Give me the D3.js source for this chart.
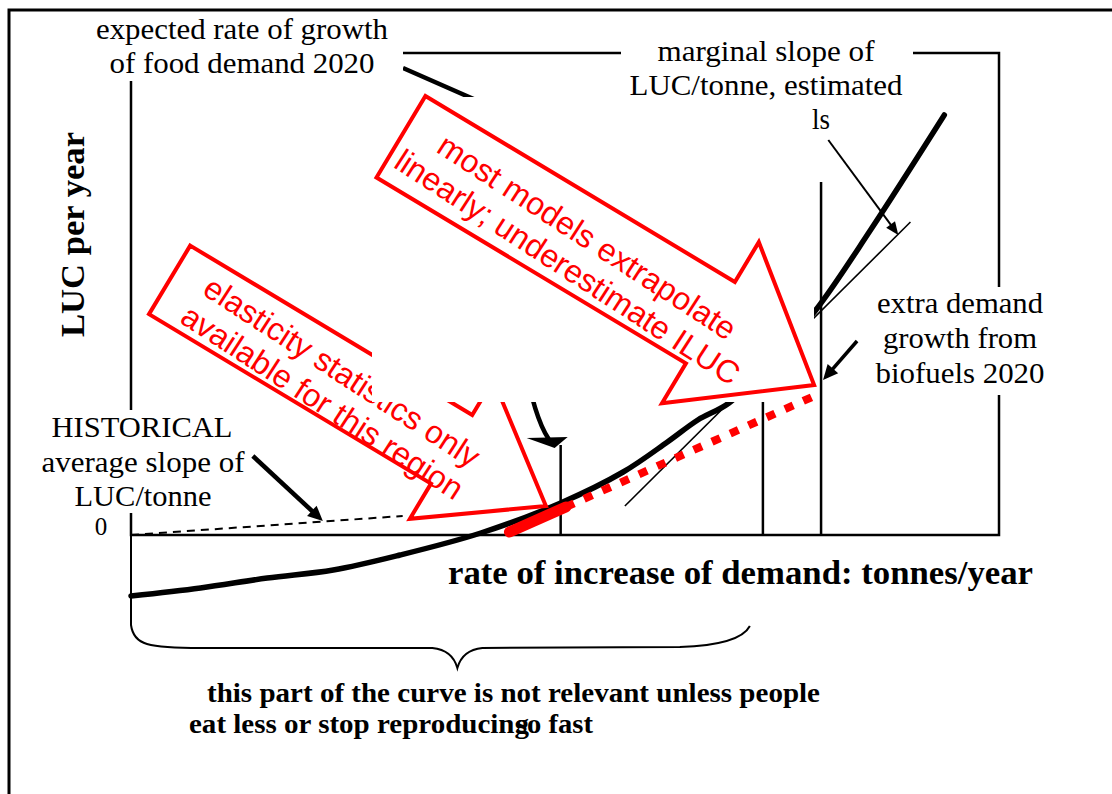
<!DOCTYPE html>
<html>
<head>
<meta charset="utf-8">
<script src="https://cdn.jsdelivr.net/npm/d3@7"></script>
<style>
  body { margin: 0; background: #fff; }
  svg { display: block; }
</style>
</head>
<body>
<div id="chart"></div>
<script>
// Variables
var width = 1112;
var height = 794;
var serif = '"Liberation Serif", "Times New Roman", serif';
var sans = '"Liberation Sans", Arial, sans-serif';

// demand growth (x, tonnes/year) against LUC per year (y)
var curveX = [0, 0.80, 1.57, 2.33, 3.10, 4.03, 4.95, 5.67, 6.18, 6.53, 6.89, 7.37, 7.89, 8.52, 9.37];
var curveY = [-0.61, -0.53, -0.43, -0.35, -0.20, 0.02, 0.32, 0.63, 0.93, 1.15, 1.32, 1.73, 2.25, 3.05, 4.20];

// historical average slope (dashed)
var histX = [0, 3.13];
var histY = [0, 0.19];

// linear extrapolation: solid over the known region, dotted beyond it
var linX = [4.36, 5.01, 7.95];
var linY = [0.03, 0.28, 1.42];

// marginal slope tangent
var tanX = [5.69, 8.98];
var tanY = [0.29, 3.13];

// vertical markers (food demand 2020, intermediate, with biofuels 2020)
var markX = [4.95, 7.28, 7.95];
var markTop = [0.90, 1.33, 3.53];

var frameTop = 4.82;

var x = d3.scaleLinear().domain([0, 10]).range([131, 999]);
var y = d3.scaleLinear().domain([0, frameTop]).range([535, 53]);

var svg = d3.select('#chart').append('svg')
    .attr('width', width)
    .attr('height', height);

function pts(xs, ys) {
  return xs.map(function(d, i) { return [d, ys[i]]; });
}

function arrowHead(x1, y1, x2, y2, len, half) {
  var a = Math.atan2(y2 - y1, x2 - x1);
  var bx = x2 - len * Math.cos(a), by = y2 - len * Math.sin(a);
  return [[x2, y2],
          [bx - half * Math.sin(a), by + half * Math.cos(a)],
          [bx + half * Math.sin(a), by - half * Math.cos(a)]];
}

// straight pointer with a filled head, tail given as offset from the tip
function pointer(tipX, tipY, dx, dy, sw, len, half) {
  var x1 = tipX + dx, y1 = tipY + dy;
  var a = Math.atan2(-dy, -dx);
  svg.append('line')
      .attr('x1', x1).attr('y1', y1)
      .attr('x2', tipX - len * 0.7 * Math.cos(a))
      .attr('y2', tipY - len * 0.7 * Math.sin(a))
      .attr('stroke', '#000').attr('stroke-width', sw);
  svg.append('polygon')
      .attr('points', arrowHead(x1, y1, tipX, tipY, len, half).join(' '))
      .attr('fill', '#000');
}

// red block arrow with two lines of text
function callout(tipX, tipY, p) {
  var back = -(p.headLen + p.shaftLen);
  var shape = [[back, -p.shaftHalf], [-p.headLen, -p.shaftHalf], [-p.headLen, -p.headHalf], [0, 0],
               [-p.headLen, p.headHalf], [-p.headLen, p.shaftHalf], [back, p.shaftHalf]];
  var g = svg.append('g')
      .attr('transform', 'translate(' + tipX + ',' + tipY + ')rotate(' + p.angle + ')');
  g.append('polygon')
      .attr('points', shape.join(' '))
      .attr('fill', '#fff')
      .attr('stroke', '#f00')
      .attr('stroke-width', 4);
  var t = g.append('g')
      .attr('transform', 'translate(' + (-(p.headLen + p.shaftLen / 2) + 30) + ',8)rotate(2)');
  p.lines.forEach(function(s, i) {
    t.append('text')
        .attr('y', i ? 29 : -7)
        .attr('text-anchor', 'middle')
        .style('font-family', sans)
        .style('font-size', '32px')
        .style('fill', '#f00')
        .text(s);
  });
}

// outer frame of the figure
svg.append('path')
    .attr('d', 'M9,794V10H1112')
    .attr('fill', 'none').attr('stroke', '#000').attr('stroke-width', 3);

// plot frame and y axis running down to the brace
svg.append('rect')
    .attr('x', x(0)).attr('y', y(frameTop))
    .attr('width', x(10) - x(0)).attr('height', y(0) - y(frameTop))
    .attr('fill', 'none').attr('stroke', '#000').attr('stroke-width', 2.5);

var bx0 = x(0), bx1 = x(7.13), bm = x(3.76);
svg.append('path')
    .attr('d', 'M' + bx0 + ',' + y(0) + 'V625Q' + (bx0 + 2) + ',640 ' + (bx0 + 16) + ',644Q' + (bx0 + 30) + ',648 ' + (bx0 + 70) + ',648' +
               'L' + (bm - 25) + ',648Q' + (bm - 5) + ',650 ' + bm + ',668Q' + (bm + 5) + ',650 ' + (bm + 25) + ',648' +
               'L' + (bx1 - 70) + ',647Q' + (bx1 - 10) + ',645 ' + bx1 + ',626')
    .attr('fill', 'none').attr('stroke', '#000').attr('stroke-width', 2);

// vertical markers
svg.selectAll('.mark')
    .data(markX)
    .enter().append('line')
    .attr('class', 'mark')
    .attr('x1', function(d) { return x(d); })
    .attr('x2', function(d) { return x(d); })
    .attr('y1', y(0))
    .attr('y2', function(d, i) { return y(markTop[i]); })
    .attr('stroke', '#000').attr('stroke-width', 2.5);

var line = d3.line()
    .x(function(d) { return x(d[0]); })
    .y(function(d) { return y(d[1]); });

// historical average slope
svg.append('path')
    .attr('d', line(pts(histX, histY)))
    .attr('fill', 'none').attr('stroke', '#000').attr('stroke-width', 2)
    .attr('stroke-dasharray', '8,6');

// the LUC curve
svg.append('path')
    .attr('d', line.curve(d3.curveCatmullRom.alpha(0.5))(pts(curveX, curveY)))
    .attr('fill', 'none').attr('stroke', '#000').attr('stroke-width', 5.5)
    .attr('stroke-linecap', 'round').attr('stroke-linejoin', 'round');
line.curve(d3.curveLinear);

// marginal slope tangent
svg.append('path')
    .attr('d', line(pts(tanX, tanY)))
    .attr('fill', 'none').attr('stroke', '#000').attr('stroke-width', 1.6);

// pointer from the food demand label, bent down to the 2020 marker
var tipA = [x(markX[0]) - 6, y(markTop[0]) + 3];
svg.append('path')
    .attr('d', 'M403,68L478,101C515,125 505,372 ' + (tipA[0] - 6) + ',' + (tipA[1] - 9))
    .attr('fill', 'none').attr('stroke', '#000').attr('stroke-width', 4.5);
svg.append('polygon')
    .attr('points', [tipA, [tipA[0] - 28, tipA[1] - 10], [tipA[0] + 13, tipA[1] - 11]].join(' '))
    .attr('fill', '#000');

pointer(x(2.21), y(0.14), -70, -65, 4.5, 15, 7);
pointer(x(8.84), y(3.0), -70, -95, 2, 13, 5.5);
pointer(x(markX[2]) + 2, y(1.55), 34, -39, 3.5, 15, 7);

callout(x(4.78), y(0.29), {
  angle: 31, headLen: 110, headHalf: 81, shaftHalf: 40, shaftLen: 329,
  lines: ['elasticity statistics only', 'available for this region']
});

// blank patch pasted over the middle of the sketch
svg.append('rect')
    .attr('x', 372).attr('y', 97).attr('width', 442).attr('height', 305)
    .attr('fill', '#fff');

// linear extrapolation
var lin = pts(linX, linY);
svg.append('path')
    .attr('d', line(lin.slice(1)))
    .attr('fill', 'none').attr('stroke', '#f00').attr('stroke-width', 8)
    .attr('stroke-dasharray', '9,11');
svg.append('path')
    .attr('d', line(lin.slice(0, 2)))
    .attr('fill', 'none').attr('stroke', '#f00').attr('stroke-width', 11)
    .attr('stroke-linecap', 'round');

callout(x(7.87), y(1.50), {
  angle: 31, headLen: 121, headHalf: 94, shaftHalf: 47.5, shaftLen: 361,
  lines: ['most models extrapolate', 'linearly; underestimate ILUC']
});

// text boxes
var boxes = [[88, 14, 315, 67], [621, 30, 292, 105], [870, 287, 180, 108], [38, 410, 212, 103]];
svg.selectAll('.box')
    .data(boxes)
    .enter().append('rect')
    .attr('class', 'box')
    .attr('x', function(d) { return d[0]; })
    .attr('y', function(d) { return d[1]; })
    .attr('width', function(d) { return d[2]; })
    .attr('height', function(d) { return d[3]; })
    .attr('fill', '#fff');

var labels = [
  ['expected rate of growth', 242, 39, 292],
  ['of food demand 2020', 242, 73, 265],
  ['marginal slope of', 766, 61, 217],
  ['LUC/tonne, estimated', 766, 95, 273],
  ['ls', 821, 129, 18],
  ['extra demand', 960, 313, 166],
  ['growth from', 960, 348, 154],
  ['biofuels 2020', 960, 383, 169],
  ['HISTORICAL', 142, 437, 181],
  ['average slope of', 143, 472, 203],
  ['LUC/tonne', 143, 506, 137]
];
svg.selectAll('.lab')
    .data(labels)
    .enter().append('text')
    .attr('class', 'lab')
    .attr('x', function(d) { return d[1]; })
    .attr('y', function(d) { return d[2]; })
    .attr('text-anchor', 'middle')
    .attr('textLength', function(d) { return d[3]; })
    .attr('lengthAdjust', 'spacingAndGlyphs')
    .style('font-family', serif)
    .style('font-size', '30px')
    .text(function(d) { return d[0]; });

svg.append('text')
    .attr('x', 101).attr('y', y(0))
    .attr('text-anchor', 'middle')
    .style('font-family', serif).style('font-size', '25px')
    .text('0');

// axis titles
svg.append('text')
    .attr('transform', 'translate(84,234.5)rotate(-90)')
    .attr('text-anchor', 'middle')
    .attr('textLength', 205).attr('lengthAdjust', 'spacingAndGlyphs')
    .style('font-family', serif).style('font-size', '33px').style('font-weight', 'bold')
    .text('LUC per year');

svg.append('text')
    .attr('x', 448).attr('y', 584)
    .attr('textLength', 585).attr('lengthAdjust', 'spacingAndGlyphs')
    .style('font-family', serif).style('font-size', '33px').style('font-weight', 'bold')
    .text('rate of increase of demand: tonnes/year');

var notes = [
  ['this part of the curve is not relevant unless people', 207, 702, 613],
  ['eat less or stop reproducing', 189, 733, 340],
  ['so fast', 516, 733, 77]
];
svg.selectAll('.note')
    .data(notes)
    .enter().append('text')
    .attr('class', 'note')
    .attr('x', function(d) { return d[1]; })
    .attr('y', function(d) { return d[2]; })
    .attr('textLength', function(d) { return d[3]; })
    .attr('lengthAdjust', 'spacingAndGlyphs')
    .style('font-family', serif).style('font-size', '28px').style('font-weight', 'bold')
    .text(function(d) { return d[0]; });
</script>
</body>
</html>
